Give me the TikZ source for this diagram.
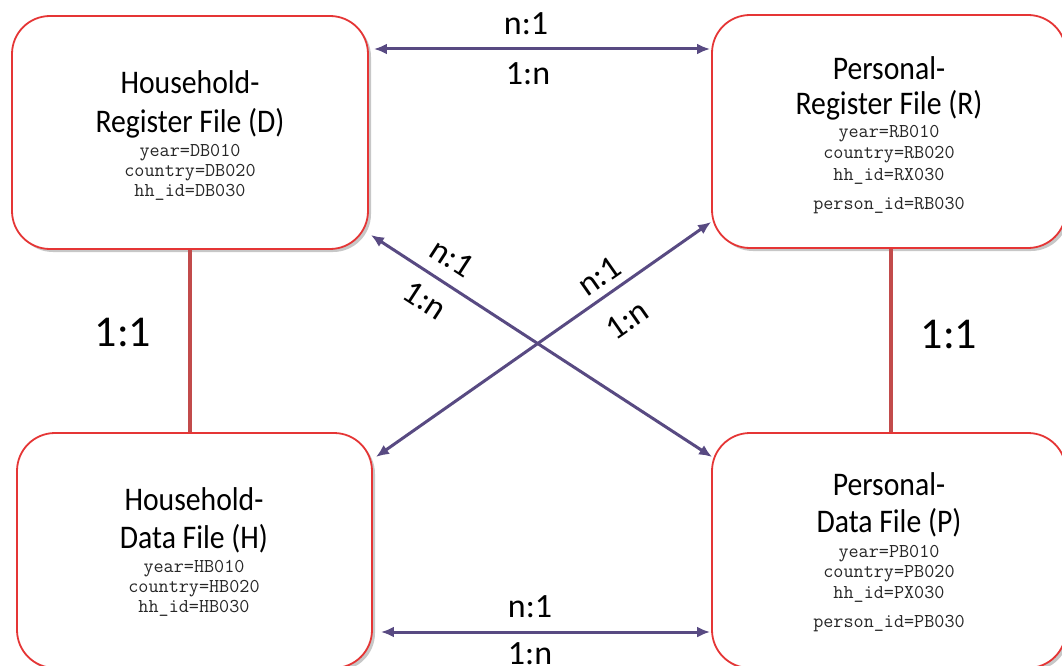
\documentclass[tikz,border=0pt]{standalone}
\usepackage{fontspec}
\setmainfont{Carlito}
\newfontfamily\ttlfont[FakeStretch=0.9]{Carlito}
\usetikzlibrary{arrows.meta,shadows}
\definecolor{boxred}{HTML}{E53535}
\definecolor{relpurple}{HTML}{584A82}
\definecolor{linered}{HTML}{C24B4B}
\tikzset{
  filebox/.style={draw=boxred, line width=1.8pt, fill=white, rectangle, rounded corners=38pt,
    inner sep=0pt, drop shadow={shadow xshift=3pt, shadow yshift=-3pt, fill=black, opacity=0.22}},
  ttl/.style={anchor=base, inner sep=0pt, font=\ttlfont\fontsize{33}{38}\selectfont},
  mono/.style={anchor=base, inner sep=0pt, text=black!85, font=\ttfamily\fontsize{19.6}{22}\selectfont},
  rel/.style={draw=relpurple, line width=3pt, {Latex[length=13pt,width=11pt]}-{Latex[length=13pt,width=11pt]}},
  one/.style={draw=linered, line width=3.5pt},
  card/.style={inner sep=0pt, font=\fontsize{34}{40}\selectfont},
  cardb/.style={anchor=base, inner sep=0pt, font=\fontsize{34}{40}\selectfont},
  oneone/.style={anchor=base, inner sep=0pt, font=\fontsize{44}{50}\selectfont}
}
\begin{document}
\begin{tikzpicture}[x=1pt,y=-1pt]
\useasboundingbox (0,0) rectangle (1062,666);
\clip (0,0) rectangle (1062,666);
% boxes
\node[filebox, minimum width=356pt, minimum height=233pt] (D) at (190,132.5) {};
\node[filebox, minimum width=354pt, minimum height=233pt] (R) at (889,131.5) {};
\node[filebox, minimum width=355pt, minimum height=235pt] (H) at (194.5,550.5) {};
\node[filebox, minimum width=354pt, minimum height=235pt] (P) at (889,550.5) {};
% 1:1 connectors
\draw[one] (D.south) -- (D.south |- H.north);
\draw[one] ([xshift=2pt]R.south) -- ([xshift=2pt]R.south |- P.north);
% n:1 connectors
\draw[rel] ([shift={(5,-83.5)}]D.east) -- ([shift={(-1,-82.5)}]R.west);
\draw[rel] ([shift={(8,81.5)}]H.east) -- ([shift={(-1,81.5)}]P.west);
\draw[rel] ([shift={(2,102.5)}]D.east) -- ([shift={(1,-93.5)}]P.west);
\draw[rel] ([shift={(0,90.5)}]R.west) -- ([shift={(3,-93.5)}]H.east);
% box texts
\node[ttl] (D1) at (190,94) {Household-};
\node[ttl] (D2) at (190,132) {Register File (D)};
\node[mono] (D3) at (190,156) {year=DB010};
\node[mono] (D4) at (190,176) {country=DB020};
\node[mono] (D5) at (190,196.5) {hh\_id=DB030};
\node[ttl] (R1) at (889,80) {Personal-};
\node[ttl] (R2) at (889,115) {Register File (R)};
\node[mono] (R3) at (889,138) {year=RB010};
\node[mono] (R4) at (889,158) {country=RB020};
\node[mono] (R5) at (889,180) {hh\_id=RX030};
\node[mono] (R6) at (889,209) {person\_id=RB030};
\node[ttl] (H1) at (194,510) {Household-};
\node[ttl] (H2) at (194,548) {Data File (H)};
\node[mono] (H3) at (194,572) {year=HB010};
\node[mono] (H4) at (194,592) {country=HB020};
\node[mono] (H5) at (194,612) {hh\_id=HB030};
\node[ttl] (P1) at (889,495) {Personal-};
\node[ttl] (P2) at (889,532) {Data File (P)};
\node[mono] (P3) at (889,557) {year=PB010};
\node[mono] (P4) at (889,577) {country=PB020};
\node[mono] (P5) at (889,598) {hh\_id=PX030};
\node[mono] (P6) at (889,627) {person\_id=PB030};
% cardinality labels
\node[cardb] (t1) at (526,35) {n:1};
\node[cardb] (t2) at (528,85) {1:n};
\node[cardb] (b1) at (530,617) {n:1};
\node[cardb] (b2) at (530,664) {1:n};
\node[oneone] (l1) at (123,346) {1:1};
\node[oneone] (r1) at (949,348) {1:1};
\node[card, rotate=-33] (d1) at (452,258) {n:1};
\node[card, rotate=-33] (d2) at (425,300) {1:n};
\node[card, rotate=35] (e1) at (599,276) {n:1};
\node[card, rotate=35] (e2) at (627,320) {1:n};
\end{tikzpicture}
\end{document}
